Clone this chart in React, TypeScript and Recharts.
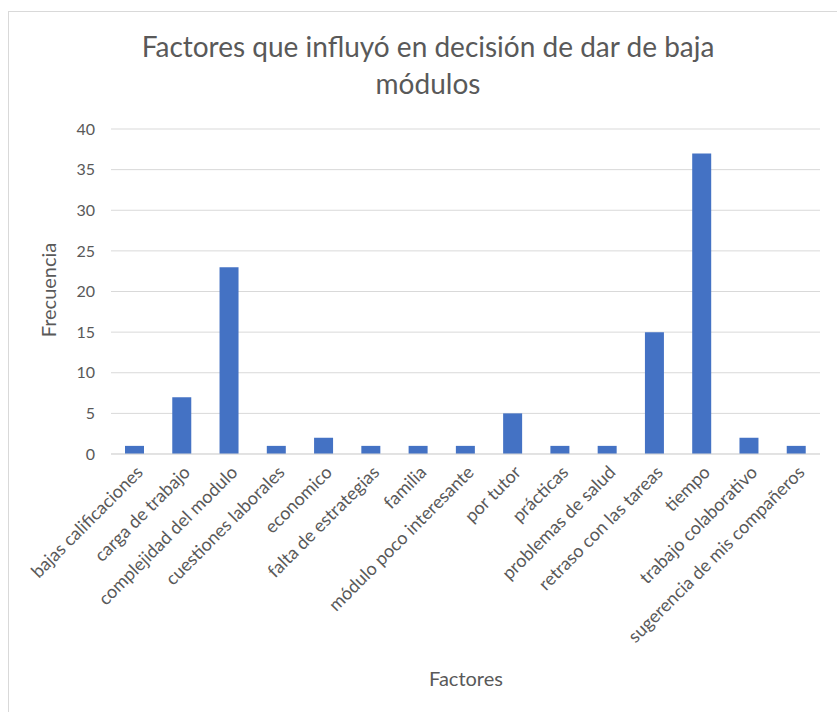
import React from "react";
import { BarChart, Bar, XAxis, YAxis, CartesianGrid } from "recharts";

const factores = [
  "bajas calificaciones",
  "carga de trabajo",
  "complejidad del modulo",
  "cuestiones laborales",
  "economico",
  "falta de estrategias",
  "familia",
  "módulo poco interesante",
  "por tutor",
  "prácticas",
  "problemas de salud",
  "retraso con las tareas",
  "tiempo",
  "trabajo colaborativo",
  "sugerencia de mis compañeros",
];

const frecuencia = [1, 7, 23, 1, 2, 1, 1, 1, 5, 1, 1, 15, 37, 2, 1];

const yTicks = [0, 5, 10, 15, 20, 25, 30, 35, 40];

const data = factores.map((factor, i) => ({ factor, frecuencia: frecuencia[i] }));

const TEXT = "#595959";
const FONT = "Lato, 'Open Sans', sans-serif";

function RotatedTick(props: any) {
  const { x, y, payload } = props;
  return (
    <text
      transform={`rotate(-45, ${x + 5}, ${y + 7})`}
      x={x + 5}
      y={y + 7}
      dy="0.35em"
      textAnchor="end"
      fill={TEXT}
      fontSize={18}
      fontFamily={FONT}
    >
      {payload.value}
    </text>
  );
}

export default function App() {
  return (
    <div
      style={{
        position: "absolute",
        left: 8,
        top: 11,
        width: 829,
        height: 701,
        borderTop: "1px solid #d9d9d9",
        borderLeft: "1px solid #d9d9d9",
        background: "#fff",
        fontFamily: FONT,
        color: TEXT,
      }}
    >
      {/* title, two lines */}
      <div
        style={{
          position: "absolute",
          left: 0,
          width: 838,
          top: 16,
          textAlign: "center",
          fontSize: 28,
          lineHeight: "37px",
        }}
      >
        Factores que influyó en decisión de dar de baja
        <br />
        módulos
      </div>

      <BarChart
        width={828}
        height={700}
        data={data}
        margin={{ top: 117, right: 17, left: 52, bottom: 58 }}
      >
        <CartesianGrid stroke="#d9d9d9" vertical={false} />
        <XAxis
          dataKey="factor"
          interval={0}
          height={200}
          tickLine={false}
          axisLine={{ stroke: "#d9d9d9" }}
          tick={<RotatedTick />}
        />
        <YAxis
          width={50}
          domain={[0, 40]}
          ticks={yTicks}
          axisLine={false}
          tickLine={false}
          tickMargin={10}
          tick={{ fill: TEXT, fontSize: 16, fontFamily: FONT }}
        />
        <Bar dataKey="frecuencia" fill="#4472C4" barSize={19} isAnimationActive={false} />
      </BarChart>

      {/* axis titles */}
      <div
        style={{
          position: "absolute",
          left: 39,
          top: 278,
          transform: "translate(-50%, -50%) rotate(-90deg)",
          fontSize: 20,
          whiteSpace: "nowrap",
        }}
      >
        Frecuencia
      </div>
      <div
        style={{
          position: "absolute",
          left: 457,
          top: 666,
          transform: "translate(-50%, -50%)",
          fontSize: 20,
          whiteSpace: "nowrap",
        }}
      >
        Factores
      </div>
    </div>
  );
}
